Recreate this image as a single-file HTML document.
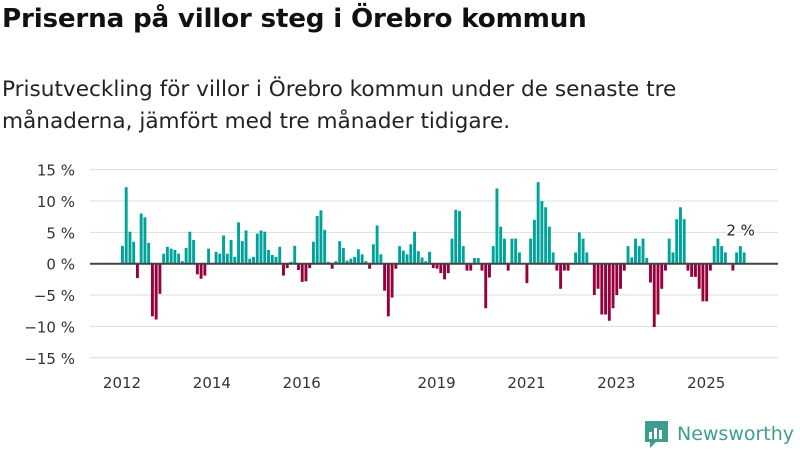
<!DOCTYPE html>
<html><head><meta charset="utf-8"><style>
body{margin:0;background:#fff;font-family:"Liberation Sans","DejaVu Sans",sans-serif;}
#wrap{position:relative;width:800px;height:450px;overflow:hidden;}
h1{position:absolute;left:2px;top:4px;margin:0;font-size:26.2px;font-weight:bold;color:#111;font-family:"DejaVu Sans",sans-serif;letter-spacing:-0.2px}
p{position:absolute;left:2px;top:74px;margin:0;font-size:21.6px;line-height:32px;color:#222;font-family:"DejaVu Sans",sans-serif;width:740px}
</style></head><body><div id="wrap">
<h1>Priserna på villor steg i Örebro kommun</h1>
<p>Prisutveckling för villor i Örebro kommun under de senaste tre<br>månaderna, jämfört med tre månader tidigare.</p>
<svg id="chart" width="800" height="450" style="position:absolute;left:0;top:0"></svg>
</div>
<script>
const values=[2.85,12.2,5.1,3.5,-2.3,8.0,7.4,3.3,-8.4,-8.9,-4.8,1.6,2.7,2.4,2.2,1.6,0.4,2.5,5.1,3.8,-1.7,-2.4,-1.9,2.4,0.1,1.9,1.6,4.5,1.6,3.8,1.1,6.6,3.6,5.3,0.8,1.1,4.8,5.3,5.1,2.2,1.4,1.1,2.7,-1.9,-0.7,0.3,2.85,-1.0,-2.9,-2.8,-0.7,3.5,7.6,8.5,5.4,0.3,-0.8,0.4,3.6,2.5,0.5,0.8,1.1,2.3,1.5,0.4,-0.8,3.1,6.1,1.5,-4.3,-8.4,-5.4,-0.8,2.8,2.1,1.5,3.1,5.1,2.0,1.0,0.4,1.9,-0.7,-0.8,-1.5,-2.5,-1.5,4.0,8.6,8.4,2.8,-1.1,-1.1,0.9,0.9,-1.1,-7.1,-2.2,2.8,12.0,5.9,4.0,-1.1,4.0,4.0,1.8,0,-3.1,4.0,7.0,13.0,10.0,9.0,5.9,1.8,-1.1,-4.0,-1.1,-1.1,0,1.8,5.0,4.0,1.8,0,-5.0,-4.0,-8.1,-8.1,-9.1,-7.1,-5.0,-4.0,-1.1,2.8,1.0,4.0,2.8,4.0,0.9,-3.0,-10.1,-8.1,-4.0,-1.1,4.0,1.8,7.1,9.0,7.1,-1.1,-2.1,-2.1,-4.0,-6.0,-6.0,-1.1,2.8,4.0,2.8,1.8,0,-1.1,1.8,2.8,1.8];
const yTicks=[15,10,5,0,-5,-10,-15];
const xTickYears=[2012,2014,2016,2019,2021,2023,2025];
const startYear=2012;
const lastLabel="2 %";
const svg=document.getElementById('chart');const NS='http://www.w3.org/2000/svg';
const y=v=>263.7-v*6.27;
const x=i=>121+i*3.745;
function mk(t,a){const e=document.createElementNS(NS,t);for(const k in a)e.setAttribute(k,a[k]);svg.appendChild(e);return e;}
yTicks.forEach(t=>{
 const g=mk('line',{x1:90,x2:778,y1:y(t),y2:y(t),stroke:'#ddd','stroke-width':1});
 
 
 const l=mk('text',{x:75,y:y(t)+6,'text-anchor':'end','font-size':15,fill:'#333','font-family':'DejaVu Sans, sans-serif'});
 l.textContent=String(t).replace('-','\u2212')+' %';
 
 
});
values.forEach((v,i)=>{
 const r=mk('rect',{x:x(i),width:2.9,y:Math.min(y(v),y(0)),height:Math.abs(y(v)-y(0)),fill:v>=0?'#00a39a':'#96003c'});
 
 
});
const z=mk('line',{x1:90,x2:778,y1:y(0),y2:y(0),stroke:'#444','stroke-width':2});


xTickYears.forEach(yr=>{
 const i=(yr-startYear)*12;
 const t=mk('text',{x:x(i)+1,y:388,'text-anchor':'middle','font-size':15,fill:'#333','font-family':'DejaVu Sans, sans-serif'});
 t.textContent=yr;
 
 
});
const n=values.length-1;
const lb=mk('text',{x:x(n)-2,y:y(values[n])-17,'text-anchor':'middle','font-size':15,fill:'#222','font-family':'DejaVu Sans, sans-serif',stroke:'#fff','stroke-width':3,'paint-order':'stroke'});
lb.textContent=lastLabel;


const lg=mk('g',{});


const ic=document.createElementNS(NS,'path');
ic.setAttribute('d','M645 421 h23 v21 h-12 l-6 6 v-6 h-5 z');ic.setAttribute('fill','#3e9e8e');


lg.appendChild(ic);
[[649,432,3,7],[654,428,3,11],[659,430,3,9]].forEach(b=>{const r=document.createElementNS(NS,'rect');r.setAttribute('x',b[0]);r.setAttribute('y',b[1]);r.setAttribute('width',b[2]);r.setAttribute('height',b[3]);r.setAttribute('fill','#fff');lg.appendChild(r);});
const lt=document.createElementNS(NS,'text');
lt.setAttribute('x',677);lt.setAttribute('y',440);lt.setAttribute('font-size',19);lt.setAttribute('fill','#3e9e8e');lt.setAttribute('font-family','DejaVu Sans, sans-serif');lt.setAttribute('textLength',117);
lt.textContent='Newsworthy';


lg.appendChild(lt);
</script></body></html>
